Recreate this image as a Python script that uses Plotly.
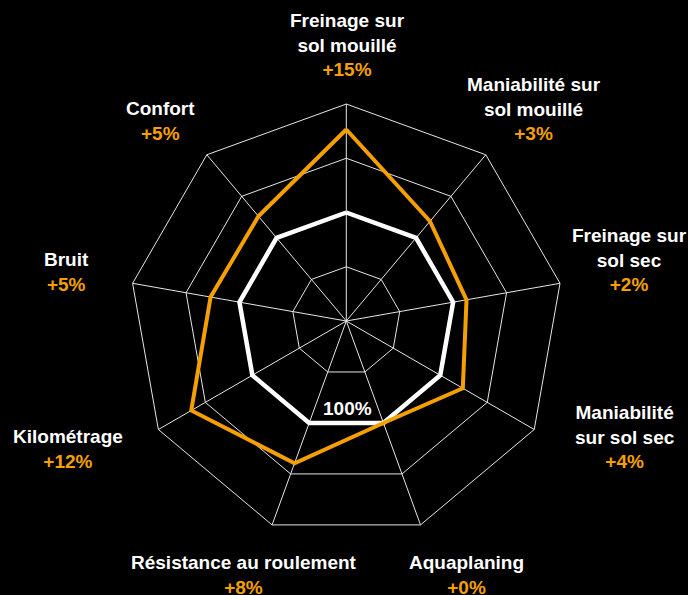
import plotly.graph_objects as go

# ---- data ----
categories = [
    "Freinage sur sol mouillé",
    "Maniabilité sur sol mouillé",
    "Freinage sur sol sec",
    "Maniabilité sur sol sec",
    "Aquaplaning",
    "Résistance au roulement",
    "Kilométrage",
    "Bruit",
    "Confort",
]
label_lines = [
    ["Freinage sur", "sol mouillé"],
    ["Maniabilité sur", "sol mouillé"],
    ["Freinage sur", "sol sec"],
    ["Maniabilité", "sur sol sec"],
    ["Aquaplaning"],
    ["Résistance au roulement"],
    ["Kilométrage"],
    ["Bruit"],
    ["Confort"],
]
gain_labels = ["+15%", "+3%", "+2%", "+4%", "+0%", "+8%", "+12%", "+5%", "+5%"]
reference_values = [100, 100, 100, 100, 100, 100, 100, 100, 100]   # 100 %
new_tyre_values = [115.3, 104, 102.5, 104.8, 100, 107.9, 113, 105.4, 105.2]
reference_label = "100%"

# ---- layout helpers (pixel positions of label blocks, layout only) ----
W, H = 688, 595
label_pos = [(347, 45), (534, 109), (629, 260), (625, 437), (466, 575),
             (244, 575), (68, 449), (66, 272), (160, 121)]
ORANGE = "#f5a000"
FONT = "Liberation Sans"
FS = 19

cx, cy, R = 346.3, 321.0, 217.0

fig = go.Figure()
fig.add_trace(go.Scatterpolar(
    r=reference_values + reference_values[:1],
    theta=categories + categories[:1],
    mode="lines",
    line=dict(color="white", width=4.5),
    hoverinfo="skip",
))
fig.add_trace(go.Scatterpolar(
    r=new_tyre_values + new_tyre_values[:1],
    theta=categories + categories[:1],
    mode="lines",
    line=dict(color=ORANGE, width=4),
    hoverinfo="skip",
))

annotations = []
for lines, gain, (px, py) in zip(label_lines, gain_labels, label_pos):
    text = "<br>".join(f"<b>{l}</b>" for l in lines) + \
        f"<br><b><span style='color:{ORANGE}'>{gain}</span></b>"
    annotations.append(dict(
        x=px / W, y=1 - py / H, xref="paper", yref="paper",
        xanchor="center", yanchor="middle", align="center",
        text=text, showarrow=False,
        font=dict(family=FONT, size=FS, color="white"),
    ))
annotations.append(dict(
    x=347 / W, y=1 - 408 / H, xref="paper", yref="paper",
    xanchor="center", yanchor="middle", text=f"<b>{reference_label}</b>",
    showarrow=False,
    font=dict(family=FONT, size=FS, color="white"),
))

fig.update_layout(
    width=W, height=H,
    margin=dict(l=0, r=0, t=0, b=0),
    paper_bgcolor="black", plot_bgcolor="black",
    showlegend=False,
    font=dict(family=FONT, color="white"),
    annotations=annotations,
    polar=dict(
        domain=dict(x=[(cx - R) / W, (cx + R) / W],
                    y=[1 - (cy + R) / H, 1 - (cy - R) / H]),
        bgcolor="black",
        gridshape="linear",
        radialaxis=dict(range=[80, 120], tickvals=[90, 100, 110, 120],
                        showticklabels=False, ticks="", showline=False,
                        gridcolor="#e6e6e6", gridwidth=1),
        angularaxis=dict(rotation=90, direction="clockwise",
                         showticklabels=False, ticks="",
                         showline=True, linecolor="#e6e6e6", linewidth=1,
                         gridcolor="#e6e6e6", gridwidth=1),
    ),
)

fig.write_html(
    "out.html",
    config={"displayModeBar": False},
    post_script="document.body.style.margin='0';document.body.style.background='black';",
)
